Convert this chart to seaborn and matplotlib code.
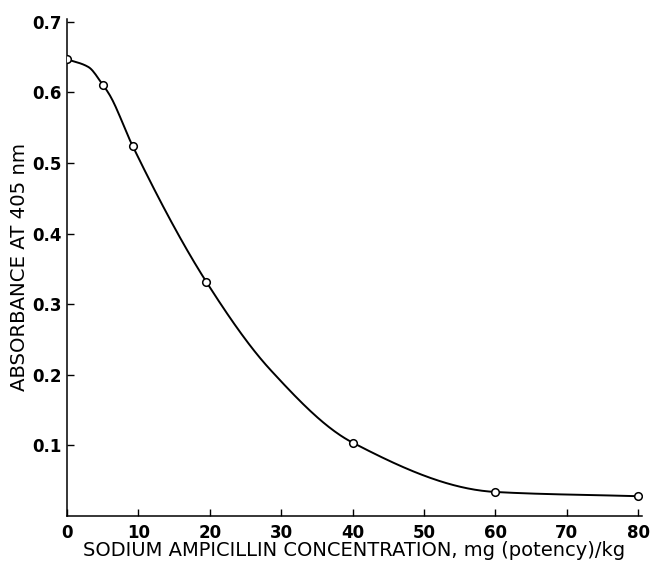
import numpy as np
import pandas as pd
import matplotlib
matplotlib.use("Agg")
import matplotlib.pyplot as plt
import seaborn as sns

# Measured points (open circles)
conc = [0, 5, 9.2, 19.5, 40, 60, 80]
absorbance = [0.647, 0.611, 0.524, 0.332, 0.104, 0.034, 0.028]

# Hand-drawn fitted curve through the measurements
curve_conc = [0, 3, 5, 6, 9.2, 19.5, 28.5, 40, 60, 80]
curve_abs = [0.647, 0.636, 0.611, 0.596, 0.524, 0.332, 0.207, 0.104, 0.034, 0.028]

x_ticks = [0, 10, 20, 30, 40, 50, 60, 70, 80]
y_ticks = [0.1, 0.2, 0.3, 0.4, 0.5, 0.6, 0.7]


def pchip(x, y, xs):
    """Monotone piecewise cubic (Fritsch-Carlson) for a smooth drawn curve."""
    x = np.asarray(x, float)
    y = np.asarray(y, float)
    h = np.diff(x)
    d = np.diff(y) / h
    m = np.zeros_like(y)
    for k in range(1, len(x) - 1):
        if d[k - 1] * d[k] > 0:
            w1 = 2 * h[k] + h[k - 1]
            w2 = h[k] + 2 * h[k - 1]
            m[k] = (w1 + w2) / (w1 / d[k - 1] + w2 / d[k])
    m[0] = d[0]
    m[-1] = d[-1]
    idx = np.clip(np.searchsorted(x, xs) - 1, 0, len(h) - 1)
    t = (xs - x[idx]) / h[idx]
    h00 = 2 * t**3 - 3 * t**2 + 1
    h10 = t**3 - 2 * t**2 + t
    h01 = -2 * t**3 + 3 * t**2
    h11 = t**3 - t**2
    return (h00 * y[idx] + h10 * h[idx] * m[idx]
            + h01 * y[idx + 1] + h11 * h[idx] * m[idx + 1])


sns.set_style("ticks")
plt.rcParams["font.family"] = ["DejaVu Sans"]
plt.rcParams["text.color"] = "black"
plt.rcParams["axes.labelcolor"] = "black"

fig = plt.figure(figsize=(6.51, 5.62), dpi=100)
ax = fig.add_axes([0.1029, 0.0819, 0.8833, 0.8843])

xs = np.linspace(curve_conc[0], curve_conc[-1], 400)
smooth = pd.DataFrame({"conc": xs, "abs": pchip(curve_conc, curve_abs, xs)})
pts = pd.DataFrame({"conc": conc, "abs": absorbance})

sns.lineplot(data=smooth, x="conc", y="abs", ax=ax, color="black",
             linewidth=1.4, sort=False, zorder=2)
sns.scatterplot(data=pts, x="conc", y="abs", ax=ax, marker="o", s=30,
                facecolor="white", edgecolor="black", linewidth=1.1, zorder=3)

ax.set_xlim(0, 80.56)
ax.set_ylim(0, 0.704)
ax.set_xticks(x_ticks)
ax.set_xticklabels([str(v) for v in x_ticks])
ax.set_yticks(y_ticks)
ax.set_yticklabels([f"{v:.1f}" for v in y_ticks])

ax.tick_params(axis="both", direction="in", length=5, width=1, colors="black",
               labelsize=12)
ax.tick_params(axis="x", pad=6)
ax.tick_params(axis="y", pad=4)
for lab in ax.get_xticklabels() + ax.get_yticklabels():
    lab.set_fontweight("bold")

for side in ("top", "right"):
    ax.spines[side].set_visible(False)
for side in ("left", "bottom"):
    ax.spines[side].set_linewidth(1.1)
    ax.spines[side].set_color("black")

ax.set_xlabel("SODIUM AMPICILLIN CONCENTRATION, mg (potency)/kg", fontsize=14)
ax.xaxis.label.set_verticalalignment("baseline")
ax.xaxis.set_label_coords(0.5, -0.0805)
ax.set_ylabel("ABSORBANCE AT 405 nm", fontsize=14.2, labelpad=2)

fig.savefig("out.png", dpi=100, facecolor="white")
